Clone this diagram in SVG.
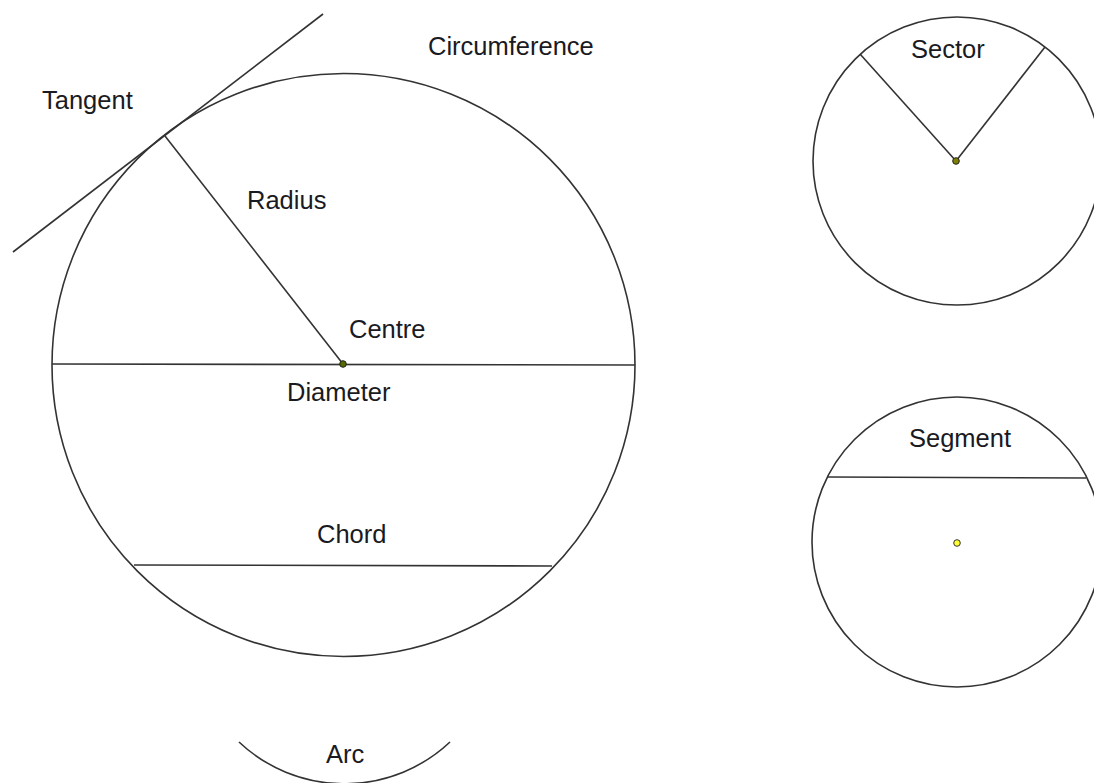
<svg xmlns="http://www.w3.org/2000/svg" width="1094" height="783" viewBox="0 0 1094 783">
<style>
.ln{fill:none;stroke:#333;stroke-width:1.6}
.t{font-family:"Liberation Sans",Arial,sans-serif;font-size:25.5px;fill:#1a1a22}
</style>
<rect width="1094" height="783" fill="#fff"/>
<g id="main-circle">
<circle class="ln" cx="343.5" cy="365" r="291.5"/>
</g>
<g id="connectors">
<line class="ln" x1="13" y1="252" x2="323" y2="14"/>
<line class="ln" x1="165" y1="136" x2="343" y2="364"/>
<line class="ln" x1="52" y1="364" x2="635" y2="365"/>
<line class="ln" x1="134" y1="565" x2="552" y2="566"/>
<path class="ln" d="M239 742 A154 154 0 0 0 450 742"/>
<line class="ln" x1="860" y1="54" x2="956" y2="161"/>
<line class="ln" x1="1045" y1="47" x2="956" y2="161"/>
<line class="ln" x1="828" y1="477" x2="1086" y2="478"/>
</g>
<g id="centre-dot"><circle cx="343" cy="364" r="3.3" fill="#556b00" stroke="#222" stroke-width="1"/></g>
<g id="sector-circle">
<circle class="ln" cx="957" cy="161" r="144"/>
<circle cx="956" cy="161" r="3.3" fill="#808000" stroke="#222" stroke-width="1"/>
</g>
<g id="segment-circle">
<circle class="ln" cx="957" cy="542" r="145"/>
<circle cx="957" cy="543" r="3.3" fill="#ffff33" stroke="#333" stroke-width="1"/>
</g>
<g id="labels">
<text class="t" x="42" y="109">Tangent</text>
<text class="t" x="428" y="55">Circumference</text>
<text class="t" x="247" y="209">Radius</text>
<text class="t" x="349" y="338">Centre</text>
<text class="t" x="287" y="401">Diameter</text>
<text class="t" x="317" y="543">Chord</text>
<text class="t" x="326" y="763">Arc</text>
<text class="t" x="911" y="58">Sector</text>
<text class="t" x="909" y="447">Segment</text>
</g>
</svg>
